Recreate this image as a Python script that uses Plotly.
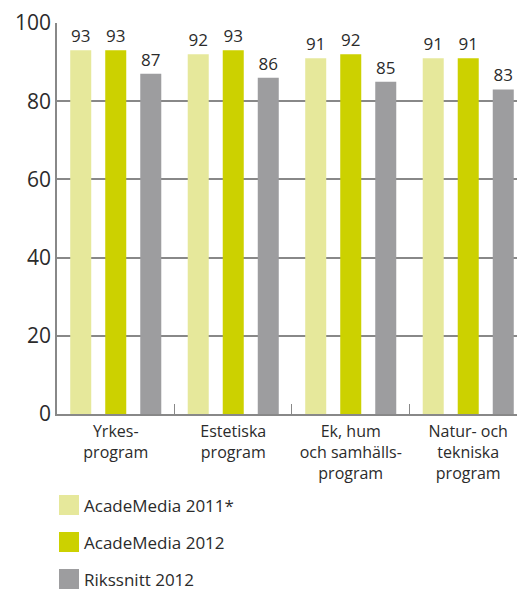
import plotly.graph_objects as go

categories = ["Yrkes-<br>program", "Estetiska<br>program", "Ek, hum<br>och samhälls-<br>program", "Natur- och<br>tekniska<br>program"]
series_names = ["AcadeMedia 2011*", "AcadeMedia 2012", "Rikssnitt 2012"]
acad_2011 = [93, 92, 91, 91]
acad_2012 = [93, 93, 92, 91]
riks_2012 = [87, 86, 85, 83]
colors = ["#E6E89B", "#CCD100", "#9D9D9F"]
y_ticks = [0, 20, 40, 60, 80, 100]

W, H = 517, 590
L, T, B = 57, 23, 176
PW, PH = W - L, H - T - B

fig = go.Figure()
for name, vals, col in zip(series_names, [acad_2011, acad_2012, riks_2012], colors):
    fig.add_trace(go.Bar(
        x=categories, y=vals, name=name, marker=dict(color=col, line=dict(width=0)),
        text=[str(v) for v in vals], textposition="outside", cliponaxis=False,
        textfont=dict(size=17, color="#2b2b2b", family="Open Sans"),
        showlegend=False, hoverinfo="skip",
    ))

# custom legend (large square swatches)
def px_x(x):
    return (x - L) / PW

def px_y(y):
    return (H - B - y) / PH

leg_y = [505, 542, 579]
for name, col, yy in zip(series_names, colors, leg_y):
    fig.add_shape(type="rect", xref="paper", yref="paper",
                  x0=px_x(59), x1=px_x(79), y0=px_y(yy + 10), y1=px_y(yy - 10),
                  fillcolor=col, line=dict(width=0))
    fig.add_annotation(xref="paper", yref="paper", x=px_x(82), y=px_y(yy),
                       text=name, showarrow=False, xanchor="left", yanchor="middle",
                       font=dict(size=17, color="#2b2b2b", family="Open Sans"))

fig.update_layout(
    width=W, height=H,
    margin=dict(l=L, r=0, t=T, b=B, pad=0, autoexpand=False),
    paper_bgcolor="white", plot_bgcolor="white",
    barmode="group", bargap=0.106, bargroupgap=0.4,
    font=dict(family="Open Sans", color="#2b2b2b"),
)
fig.update_xaxes(
    range=[-0.5, 3.415], showline=True, linecolor="#888888", linewidth=1.5,
    ticks="inside", tickson="boundaries", ticklen=10, tickcolor="#888888", tickwidth=1,
    tickfont=dict(size=16, color="#2b2b2b"), showgrid=False, tickangle=0, automargin=False,
    ticklabelstandoff=2,
)
fig.update_yaxes(
    range=[0, 100], tickvals=y_ticks, showline=True, linecolor="#888888", linewidth=1.5,
    gridcolor="#888888", gridwidth=1.5, tickfont=dict(size=21, color="#2b2b2b"),
    ticks="", zeroline=False, automargin=False,
)
fig.write_html("out.html", config={"displayModeBar": False},
               post_script="document.body.style.margin='0';document.documentElement.style.overflow='hidden';")
